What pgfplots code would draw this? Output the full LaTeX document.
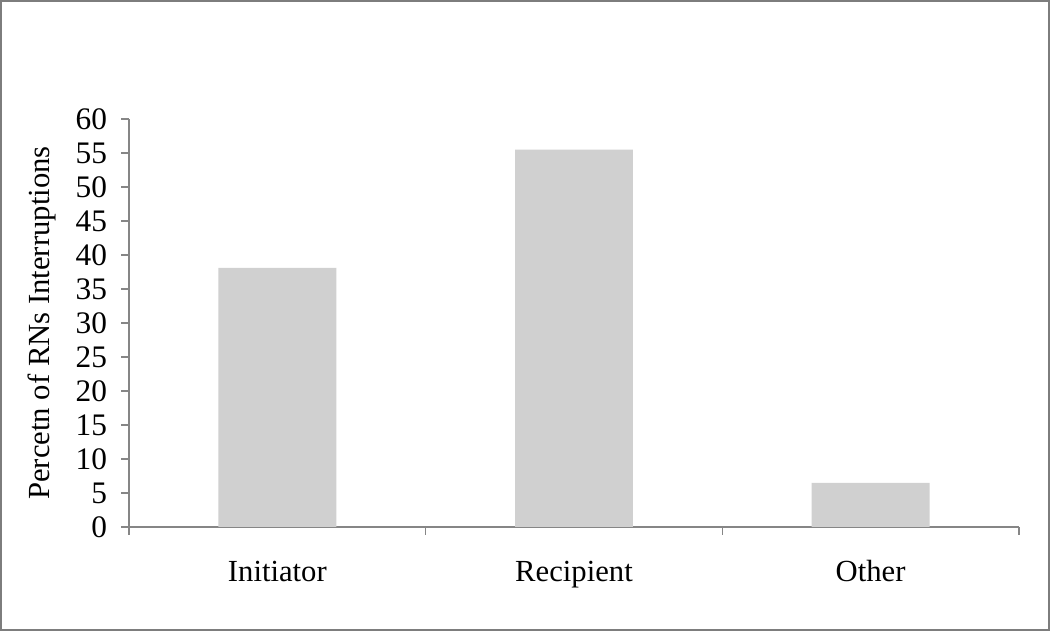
\documentclass[border=0pt]{standalone}
\usepackage{pgfplots}
\pgfplotsset{compat=1.18}
\usepackage{fontspec}
\setmainfont{Liberation Serif}
\definecolor{barfill}{RGB}{208,208,208}
\definecolor{axisgray}{RGB}{134,134,134}
\definecolor{framegray}{RGB}{125,125,125}
\begin{document}
\begin{tikzpicture}[x=0.75pt,y=0.75pt]
\fill[white] (0,0) rectangle (1050,631);
\begin{axis}[
  at={(96.75pt,78pt)}, anchor=south west,
  scale only axis,
  width=667.5pt, height=306pt,
  xmin=-0.5, xmax=2.5, ymin=0, ymax=60,
  axis lines=left,
  axis line style={-, axisgray, line width=0.9pt},
  xtick={-0.5,0.5,1.5,2.5},
  xticklabels={},
  extra x ticks={0,1,2},
  extra x tick labels={Initiator,Recipient,Other},
  extra x tick style={major tick length=0pt, xticklabel style={anchor=base, yshift=-41pt, font=\fontsize{23}{26}\selectfont}},
  ytick={0,5,...,60},
  tick align=outside,
  tick style={axisgray, line width=0.9pt},
  major tick length=6pt,
  ticklabel style={font=\fontsize{23.5}{26}\selectfont, text=black},
  /pgf/number format/assume math mode=true,
  yticklabel style={xshift=-7pt},
  ylabel={Percetn of RNs Interruptions},
  ylabel style={font=\fontsize{23}{26}\selectfont, yshift=8pt},
  clip=false,
]
\addplot[ybar, bar width=88.5pt, fill=barfill, draw=none] coordinates {(0,38.1) (1,55.5) (2,6.5)};
\end{axis}
\draw[framegray, line width=1.6pt] (1,1) rectangle (1049,630);
\end{tikzpicture}
\end{document}
